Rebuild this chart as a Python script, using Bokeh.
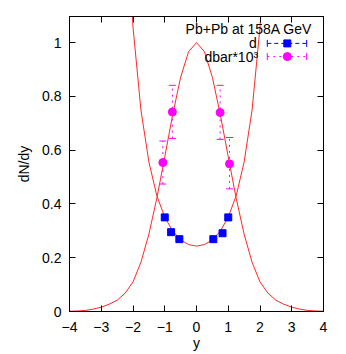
from bokeh.plotting import figure
from bokeh.models import (LinearAxis, Range1d, Whisker, ColumnDataSource, Label, TeeHead,
                          FixedTicker, CustomLabelingPolicy)
from bokeh.embed import file_html
from bokeh.resources import INLINE

# ---- data ----
d_y = [-1.0, -0.8, -0.54, 0.53, 0.82, 1.0]
d_val = [0.35, 0.295, 0.269, 0.269, 0.291, 0.35]

dbar_y = [-1.06, -0.76, 0.745, 1.04]
dbar_val = [0.554, 0.742, 0.74, 0.549]
dbar_lo = [0.474, 0.643, 0.64, 0.456]
dbar_hi = [0.634, 0.841, 0.841, 0.647]

fit_dbar_y = [-4.0, -3.75, -3.5, -3.25, -3.0, -2.75, -2.5, -2.25, -2.0, -1.75, -1.5, -1.25,
              -1.0, -0.75, -0.5, -0.25, 0.0, 0.25, 0.5, 0.75, 1.0, 1.25, 1.5, 1.75,
              2.0, 2.25, 2.5, 2.75, 3.0, 3.25, 3.5, 3.75, 4.0]
fit_dbar = [0.001, 0.002, 0.004, 0.009, 0.016, 0.027, 0.042, 0.068, 0.11, 0.183, 0.2875, 0.421,
            0.575, 0.732, 0.871, 0.966, 1.0, 0.966, 0.871, 0.732, 0.575, 0.421, 0.2875, 0.183,
            0.11, 0.068, 0.042, 0.027, 0.016, 0.009, 0.004, 0.002, 0.001]

fit_d_y = [-2.25, -2.0, -1.75, -1.5, -1.25, -1.0, -0.75, -0.5, -0.25, 0.0,
           0.25, 0.5, 0.75, 1.0, 1.25, 1.5, 1.75, 2.0, 2.25]
fit_d = [1.56, 1.057, 0.749, 0.556, 0.431, 0.351, 0.299, 0.266, 0.249, 0.243,
         0.249, 0.266, 0.299, 0.351, 0.431, 0.556, 0.749, 1.057, 1.56]

x_ticks = [-4, -3, -2, -1, 0, 1, 2, 3, 4]
y_ticks = [0, 0.2, 0.4, 0.6, 0.8, 1.0]

title_text = "Pb+Pb at 158A GeV"
label_d = "d"
label_dbar = "dbar*10\u00b3"

FONT = "Liberation Sans"
FS = "14px"
RED = "#ff2828"
BLUE = "#0000ff"
MAG = "#ff00ff"

p = figure(width=340, height=353, output_backend="svg", toolbar_location=None,
           x_range=Range1d(-4, 4), y_range=Range1d(0, 1.097),
           min_border_left=69, min_border_right=17, min_border_top=16, min_border_bottom=40)
p.grid.visible = False
p.outline_line_color = "black"
p.outline_line_width = 1
p.background_fill_color = "white"

for ax in (p.xaxis[0], p.yaxis[0]):
    ax.major_tick_in = 6
    ax.major_tick_out = 0
    ax.minor_tick_line_color = None
    ax.axis_line_color = "black"
    ax.major_tick_line_color = "black"
    ax.major_label_text_font = FONT
    ax.major_label_text_font_size = FS
    ax.major_label_text_color = "black"
    ax.axis_label_text_font = FONT
    ax.axis_label_text_font_size = FS
    ax.axis_label_text_font_style = "normal"
    ax.axis_label_text_color = "black"

p.xaxis[0].ticker = FixedTicker(ticks=x_ticks)
p.yaxis[0].ticker = FixedTicker(ticks=y_ticks)
p.xaxis[0].axis_label = "y"
p.yaxis[0].axis_label = "dN/dy"
p.xaxis[0].major_label_standoff = 10
p.yaxis[0].major_label_standoff = 8
p.xaxis[0].axis_label_standoff = 0
p.yaxis[0].axis_label_standoff = 7
p.yaxis[0].major_label_overrides = {0: "0", 1: "1"}

no_labels = "for (let i = 0; i < indices.size; i++) { indices.unset(i) }\nreturn indices"

top = LinearAxis(ticker=FixedTicker(ticks=x_ticks), major_label_text_font_size="1px",
                 major_label_policy=CustomLabelingPolicy(code=no_labels),
                 major_tick_in=6, major_tick_out=0, minor_tick_line_color=None,
                 major_label_standoff=0)
right = LinearAxis(ticker=FixedTicker(ticks=y_ticks), major_label_text_font_size="1px",
                   major_label_policy=CustomLabelingPolicy(code=no_labels),
                   major_tick_in=6, major_tick_out=0, minor_tick_line_color=None,
                   major_label_standoff=0)
p.add_layout(top, "above")
p.add_layout(right, "right")

# fit curves
p.line(fit_dbar_y, fit_dbar, line_color=RED, line_width=1)
p.line(fit_d_y, fit_d, line_color=RED, line_width=1)

# dbar error bars
src_dbar = ColumnDataSource(dict(x=dbar_y, y=dbar_val, lo=dbar_lo, hi=dbar_hi))
p.add_layout(Whisker(source=src_dbar, base="x", lower="lo", upper="hi", dimension="height",
                     line_color=MAG, line_dash="dotted", line_width=1,
                     upper_head=TeeHead(size=7, line_color=MAG, line_width=1),
                     lower_head=TeeHead(size=7, line_color=MAG, line_width=1)))
p.scatter("x", "y", source=src_dbar, marker="circle", size=8, fill_color=MAG, line_color=MAG)

src_d = ColumnDataSource(dict(x=d_y, y=d_val))
p.scatter("x", "y", source=src_d, marker="square", size=7, fill_color=BLUE, line_color=BLUE)

# legend (gnuplot style)
p.add_layout(Label(x=3.64, y=1.049, text=title_text, text_align="right", text_baseline="middle",
                   text_font=FONT, text_font_size=FS, text_color="black"))
p.add_layout(Label(x=1.90, y=0.997, text=label_d, text_align="right", text_baseline="middle",
                   text_font=FONT, text_font_size=FS, text_color="black"))
p.add_layout(Label(x=1.94, y=0.948, text=label_dbar, text_align="right", text_baseline="middle",
                   text_font=FONT, text_font_size=FS, text_color="black"))

leg_d = ColumnDataSource(dict(y=[0.997], lo=[2.23], hi=[3.47], x=[2.86]))
p.add_layout(Whisker(source=leg_d, base="y", lower="lo", upper="hi", dimension="width",
                     line_color=BLUE, line_dash="4 3", line_width=1,
                     upper_head=TeeHead(size=7, line_color=BLUE, line_width=1),
                     lower_head=TeeHead(size=7, line_color=BLUE, line_width=1)))
p.scatter("x", "y", source=leg_d, marker="square", size=7, fill_color=BLUE, line_color=BLUE)

leg_b = ColumnDataSource(dict(y=[0.948], lo=[2.23], hi=[3.47], x=[2.86]))
p.add_layout(Whisker(source=leg_b, base="y", lower="lo", upper="hi", dimension="width",
                     line_color=MAG, line_dash="dotted", line_width=1,
                     upper_head=TeeHead(size=7, line_color=MAG, line_width=1),
                     lower_head=TeeHead(size=7, line_color=MAG, line_width=1)))
p.scatter("x", "y", source=leg_b, marker="circle", size=8, fill_color=MAG, line_color=MAG)

open("out.html", "w").write(file_html(p, INLINE))
